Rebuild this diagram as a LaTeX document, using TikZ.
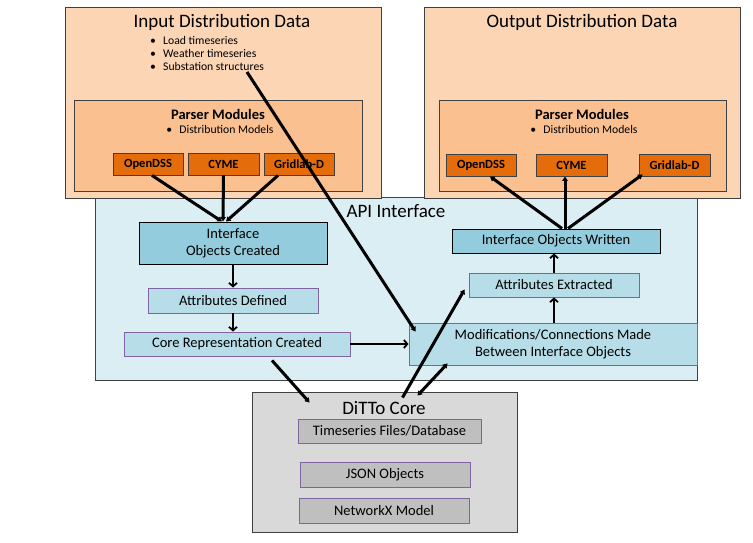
\documentclass[tikz,border=0pt]{standalone}
\usepackage{fontspec}
\setmainfont{Carlito}
\usetikzlibrary{calc,arrows.meta,shadows}
\definecolor{peach}{HTML}{FCD5B5}
\definecolor{peachdk}{HTML}{FAC090}
\definecolor{orng}{HTML}{E46C0A}
\definecolor{apibg}{HTML}{DBEEF4}
\definecolor{cyandk}{HTML}{93CDDD}
\definecolor{cyanlt}{HTML}{B7DEE8}
\definecolor{purp}{HTML}{8064A2}
\definecolor{graybg}{HTML}{D9D9D9}
\definecolor{grayin}{HTML}{BFBFBF}
\definecolor{edge}{HTML}{404040}
\tikzset{
  shad/.style={drop shadow={shadow xshift=1.2pt,shadow yshift=-1.2pt,opacity=0.35,fill=black}},
  bigbox/.style={draw=edge,line width=0.9pt,inner sep=0pt,shad},
  modbox/.style={draw=black!75,line width=0.9pt,fill=orng,inner sep=0pt,shad,font=\fontsize{12.5}{14}\selectfont\bfseries,minimum height=22pt},
  darkbox/.style={draw=black,line width=1pt,fill=cyandk,inner sep=0pt,align=center,shad,font=\fontsize{14.5}{17}\selectfont},
  litebox/.style={draw=purp,line width=0.9pt,fill=cyanlt,inner sep=0pt,align=center,shad,font=\fontsize{14.5}{17}\selectfont},
  corebox/.style={draw=purp,line width=0.9pt,fill=grayin,inner sep=0pt,align=center,shad,font=\fontsize{14.5}{17}\selectfont},
  title/.style={font=\fontsize{19}{23}\selectfont,inner sep=0pt},
  pmtitle/.style={font=\fontsize{14.5}{17}\selectfont\bfseries,inner sep=0pt},
  small/.style={font=\fontsize{11.7}{13}\selectfont,inner sep=0pt,align=left},
  bigarrow/.style={line width=3pt,-{Triangle[length=4.5pt,width=5.5pt]}},
  bigdarrow/.style={line width=3pt,{Triangle[length=4.5pt,width=5.5pt]}-{Triangle[length=4.5pt,width=5.5pt]}},
  thinarrow/.style={line width=1.8pt,-{Straight Barb[length=3.5pt,width=8pt,line width=1.8pt]}}
}
\begin{document}
\begin{tikzpicture}[x=1pt,y=-1pt]
\useasboundingbox (0,0) rectangle (753,543);
\fill[white] (0,0) rectangle (753,543);

% API interface box
\node[bigbox,fill=apibg,minimum width=602pt,minimum height=183pt] (api) at (396,288.5) {};
\node[title] (apititle) at (396,211) {API Interface};

% Input distribution data
\node[bigbox,fill=peach,minimum width=316pt,minimum height=191pt] (inbox) at (223,102.5) {};
\node[title] (intitle) at (222,22) {Input Distribution Data};
\node[small,anchor=west] (inlist) at (150,53) {\makebox[13pt][l]{\textbullet}Load timeseries\\\makebox[13pt][l]{\textbullet}Weather timeseries\\\makebox[13pt][l]{\textbullet}Substation structures};
\node[bigbox,fill=peachdk,minimum width=288pt,minimum height=91pt] (inparser) at (218,145.5) {};
\node[pmtitle] (inpm) at (218,114) {Parser Modules};
\node[small] (indm) at (220,129) {\makebox[13pt][l]{\textbullet}Distribution Models};
\node[modbox,minimum width=70pt] (inod) at (148,164) {OpenDSS};
\node[modbox,minimum width=71pt] (incy) at (223.5,164) {CYME};
\node[modbox,minimum width=70pt] (ingr) at (299,164) {Gridlab-D};
\coordinate (subst) at (247,72);

% Output distribution data
\node[bigbox,fill=peach,minimum width=316pt,minimum height=191pt] (outbox) at (582,102.5) {};
\node[title] (outtitle) at (582,22) {Output Distribution Data};
\node[bigbox,fill=peachdk,minimum width=287pt,minimum height=91pt] (outparser) at (582.5,145.5) {};
\node[pmtitle] (outpm) at (582,114) {Parser Modules};
\node[small] (outdm) at (584,129) {\makebox[13pt][l]{\textbullet}Distribution Models};
\node[modbox,minimum width=70pt] (outod) at (481,165) {OpenDSS};
\node[modbox,minimum width=71pt] (outcy) at (571.5,165) {CYME};
\node[modbox,minimum width=71pt] (outgr) at (674.5,165) {Gridlab-D};

% API contents
\node[darkbox,minimum width=188pt,minimum height=42pt] (ioc) at (233,243) {Interface\\Objects Created};
\node[litebox,minimum width=170pt,minimum height=25pt] (attrdef) at (233,300.5) {Attributes Defined};
\node[litebox,minimum width=226pt,minimum height=24pt] (corerep) at (237,344) {Core Representation Created};
\node[darkbox,minimum width=208pt,minimum height=24pt] (iow) at (556,241) {Interface Objects Written};
\node[litebox,minimum width=170pt,minimum height=24pt] (attrext) at (554,285) {Attributes Extracted};
\node[litebox,minimum width=288pt,minimum height=42pt] (mods) at (553,344) {Modifications/Connections Made\\Between Interface Objects};

% DiTTo core
\node[bigbox,fill=graybg,minimum width=265pt,minimum height=140pt] (core) at (384.5,462) {};
\node[title] (coretitle) at (384,408) {DiTTo Core};
\node[corebox,minimum width=183pt,minimum height=24pt] (ts) at (389.5,431) {Timeseries Files/Database};
\node[corebox,minimum width=170pt,minimum height=25pt] (json) at (385,474.5) {JSON Objects};
\node[corebox,minimum width=170pt,minimum height=25pt] (nx) at (384,510.5) {NetworkX Model};

% connectors
\draw[bigarrow] ($(inod.south)+(4,0)$) -- ($(ioc.north)+(-11,0)$);
\draw[bigarrow] (incy.south) -- ($(ioc.north)+(-10,0)$);
\draw[bigarrow] ($(ingr.south)+(-21,0)$) -- ($(ioc.north)+(-7,0)$);
\draw[bigarrow] (subst) -- ($(mods.north west)+(7,9)$);
\draw[thinarrow] (ioc.south) -- (attrdef.north);
\draw[thinarrow] (attrdef.south) -- (attrdef.south |- corerep.north);
\draw[thinarrow] (corerep.east) -- (mods.west |- corerep.east);
\draw[thinarrow] (attrext.south |- mods.north) -- (attrext.south);
\draw[thinarrow] (attrext.north) -- (attrext.north |- iow.south);
\draw[bigarrow] ($(iow.north)+(6,0)$) -- ($(outod.south)+(9,0)$);
\draw[bigarrow] ($(iow.north)+(9,0)$) -- ($(outcy.south)+(-6.5,0)$);
\draw[bigarrow] ($(iow.north)+(12,0)$) -- ($(outgr.south west)+(4,-2)$);
\draw[bigarrow] ($(corerep.south)+(35,4)$) -- ($(core.north west)+(58,11)$);
\draw[bigarrow] ($(core.north)+(18,6)$) -- ($(attrext.south west)+(-4,-8)$);
\draw[bigdarrow] ($(core.north)+(33,4)$) -- ($(mods.south west)+(39,-2)$);
\end{tikzpicture}
\end{document}
